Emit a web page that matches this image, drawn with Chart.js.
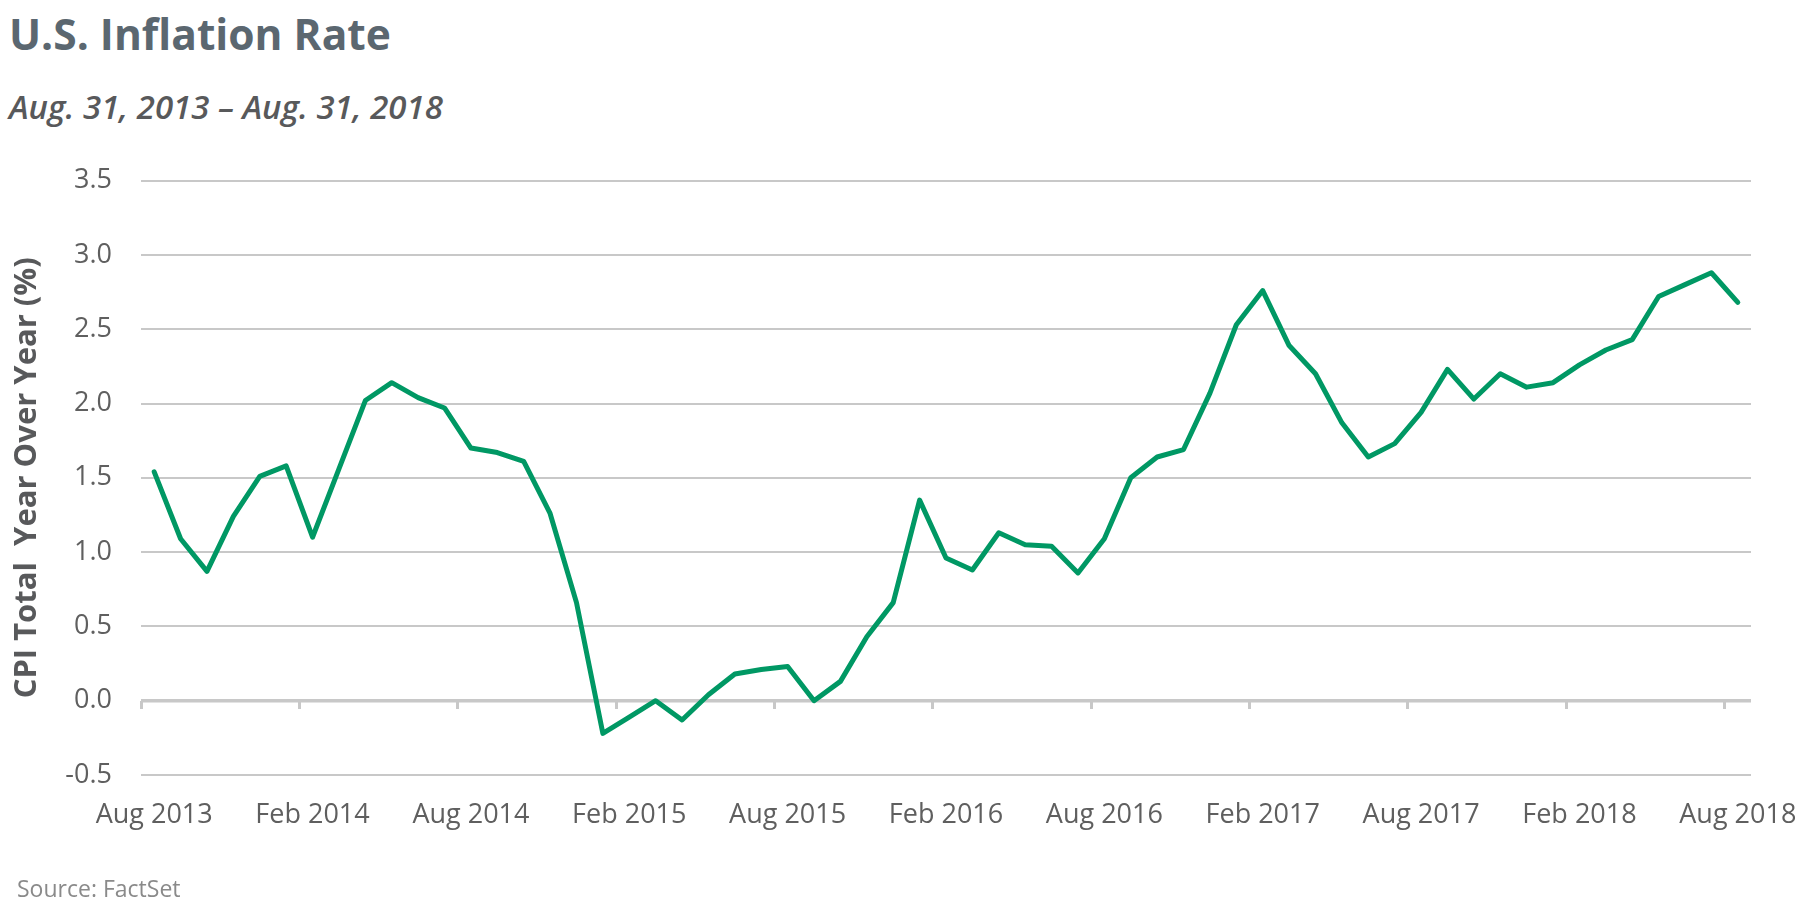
<!DOCTYPE html>
<html>
<head>
<meta charset="utf-8">
<title>U.S. Inflation Rate</title>
<script src="https://cdn.jsdelivr.net/npm/chart.js@4.4.1/dist/chart.umd.min.js"></script>
<style>
  html, body { margin: 0; padding: 0; background: #fff; }
  body { width: 1797px; height: 916px; position: relative; overflow: hidden; font-family: "Open Sans", sans-serif; }
  .txt { position: absolute; left: 9px; line-height: 1; white-space: nowrap; }
  #title { top: 13px; font-size: 42.5px; font-weight: 700; color: #5b6770; }
  #subtitle { top: 90px; font-size: 33px; font-weight: 600; font-style: italic; color: #58595b; }
  #source { top: 877px; left: 17px; font-size: 23px; color: #8a8a8a; }
  #chartBox { position: absolute; left: 0; top: 0; width: 1797px; height: 916px; }
</style>
</head>
<body>
<div id="title" class="txt">U.S. Inflation Rate</div>
<div id="subtitle" class="txt">Aug. 31, 2013 – Aug. 31, 2018</div>
<div id="chartBox"><canvas id="myChart"></canvas></div>
<div id="source" class="txt">Source: FactSet</div>

<script>
// monthly labels Aug 2013 .. Aug 2018
var months = ['Jan', 'Feb', 'Mar', 'Apr', 'May', 'Jun', 'Jul', 'Aug', 'Sep', 'Oct', 'Nov', 'Dec'];
var labels = [];
for (var i = 0; i < 61; i++) {
  var m = (7 + i) % 12;
  var y = 2013 + Math.floor((7 + i) / 12);
  labels.push(months[m] + ' ' + y);
}

// CPI total, year over year (%)
var cpiYoY = [
  1.54, 1.09, 0.87, 1.24, 1.51,
  1.58, 1.10, 1.56, 2.02, 2.14, 2.04, 1.97, 1.70, 1.67, 1.61, 1.26, 0.66,
  -0.22, -0.11, 0.00, -0.13, 0.04, 0.18, 0.21, 0.23, 0.00, 0.13, 0.43, 0.66,
  1.35, 0.96, 0.88, 1.13, 1.05, 1.04, 0.86, 1.09, 1.50, 1.64, 1.69, 2.07,
  2.53, 2.76, 2.39, 2.20, 1.87, 1.64, 1.73, 1.94, 2.23, 2.03, 2.20, 2.11,
  2.14, 2.26, 2.36, 2.43, 2.72, 2.80, 2.88, 2.68
];

var yTicks = [-0.5, 0, 0.5, 1, 1.5, 2, 2.5, 3, 3.5];

var gridGray = '#c8c8c8';
var textGray = '#5f5f5f';

var ctx = document.getElementById('myChart').getContext('2d');
var myLineChart = new Chart(ctx, {
  type: 'line',
  data: {
    labels: labels,
    datasets: [{
      label: 'CPI Total Year Over Year (%)',
      data: cpiYoY,
      borderColor: '#009864',
      borderWidth: 5,
      borderCapStyle: 'round',
      borderJoinStyle: 'round',
      pointRadius: 0,
      pointHoverRadius: 0,
      tension: 0,
      fill: false,
      xAxisID: 'x',
      yAxisID: 'y'
    }]
  },
  options: {
    responsive: true,
    maintainAspectRatio: false,
    animation: false,
    layout: {
      padding: { top: 180.6, left: 0, right: 46, bottom: 61 }
    },
    plugins: {
      legend: { display: false },
      tooltip: { enabled: false },
      title: { display: false }
    },
    scales: {
      x: {
        type: 'category',
        position: 'bottom',
        offset: true,
        grid: { display: false, drawTicks: false, offset: true },
        border: { display: false },
        ticks: {
          autoSkip: false,
          maxRotation: 0,
          padding: 24,
          color: textGray,
          font: { family: 'Open Sans', size: 27 },
          callback: function (value, index) {
            return index % 6 === 0 ? labels[index] : '';
          }
        },
        afterFit: function (s) {
          s.height = 80;
          s.paddingLeft = 0;
          s.paddingRight = 0;
        }
      },
      // tick marks hanging from the zero line
      xt: {
        type: 'category',
        axis: 'x',
        position: { y: 0 },
        offset: true,
        grid: {
          offset: true,
          drawOnChartArea: false,
          drawTicks: true,
          tickLength: 8,
          tickWidth: 3,
          tickColor: function (c) {
            return c.index % 6 === 0 ? gridGray : 'rgba(0,0,0,0)';
          }
        },
        border: { display: false },
        ticks: { display: false }
      },
      y: {
        type: 'linear',
        position: 'left',
        min: -0.5,
        max: 3.5,
        afterBuildTicks: function (s) {
          s.ticks = yTicks.map(function (v) { return { value: v }; });
        },
        grid: {
          color: gridGray,
          drawTicks: false,
          lineWidth: function (c) {
            return c.tick && c.tick.value === 0 ? 3.5 : 2;
          }
        },
        border: { display: false },
        ticks: {
          padding: 29,
          color: textGray,
          font: { family: 'Open Sans', size: 27 },
          callback: function (v) { return Number(v).toFixed(1); }
        },
        title: {
          display: true,
          text: 'CPI Total  Year Over Year (%)',
          color: '#58595b',
          font: { family: 'Open Sans', size: 31, weight: 'bold' },
          padding: { top: 9, bottom: 0 }
        },
        afterFit: function (s) {
          s.width = 141;
        }
      }
    }
  }
});
</script>
</body>
</html>
